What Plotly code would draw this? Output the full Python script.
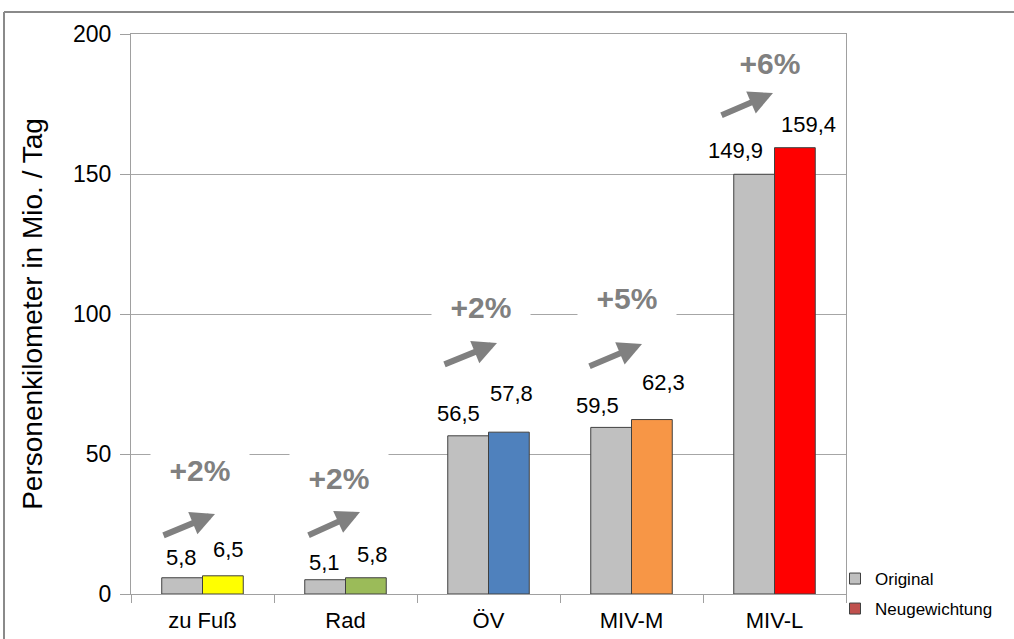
import plotly.graph_objects as go

categories = ["zu Fuß", "Rad", "ÖV", "MIV-M", "MIV-L"]
original = [5.8, 5.1, 56.5, 59.5, 149.9]
neugewichtung = [6.5, 5.8, 57.8, 62.3, 159.4]
changes = ["+2%", "+2%", "+2%", "+5%", "+6%"]
y_ticks = [0, 50, 100, 150, 200]

new_colors = ["#FFFF00", "#9BBB59", "#4F81BD", "#F79646", "#FF0000"]
gray = "#C0C0C0"
FONT = "Liberation Sans, Arial, sans-serif"

# plot area in pixels
L, R, T, B = 131, 846, 34, 594
W, H = R - L, B - T


def px(x):
    return (x - L) / W


def py(y):
    return (B - y) / H


fig = go.Figure()
fig.add_trace(go.Bar(
    x=categories, y=original, name="Original",
    marker=dict(color=gray, line=dict(color="#404040", width=1)),
    showlegend=False,
))
fig.add_trace(go.Bar(
    x=categories, y=neugewichtung, name="Neugewichtung",
    marker=dict(color=new_colors, line=dict(color="#404040", width=1)),
    showlegend=False,
))
# legend-only entries
fig.add_trace(go.Scatter(
    x=[categories[0]], y=[None], name="Original", mode="markers",
    marker=dict(symbol="square", size=11, color=gray,
                line=dict(color="#404040", width=1)),
    legend="legend",
))
fig.add_trace(go.Scatter(
    x=[categories[0]], y=[None], name="Neugewichtung", mode="markers",
    marker=dict(symbol="square", size=11, color="#C0504D",
                line=dict(color="#404040", width=1)),
    legend="legend2",
))

annotations = []
# data label placement (styling offsets, pixels)
orig_lift = [6, 3, 8, 7, 9]
new_lift = [12, 9, 24, 23, 9]
orig_dx = [0, 0, -9, -13, -18]
new_dx = [5, 6, 2, 11, 13]
for i, c in enumerate(categories):
    annotations.append(dict(
        x=c, y=original[i], xref="x", yref="y", xshift=-21 + orig_dx[i],
        yshift=orig_lift[i],
        yanchor="bottom", text=f"{original[i]:.1f}".replace(".", ","),
        showarrow=False, font=dict(size=22, color="#000000", family=FONT)))
    annotations.append(dict(
        x=c, y=neugewichtung[i], xref="x", yref="y", xshift=21 + new_dx[i],
        yshift=new_lift[i],
        yanchor="bottom", text=f"{neugewichtung[i]:.1f}".replace(".", ","),
        showarrow=False, font=dict(size=22, color="#000000", family=FONT)))

# percentage boxes and arrows (pixel positions of decorations)
pct_pos = [(200, 470), (339, 478), (481, 307), (627, 298), (770, 63)]
arrow_tips = [(215, 514), (360, 512), (497, 343), (642, 344), (773, 93)]
arrow_tails = [(162, 536), (307, 536), (443, 365), (588, 367), (720, 116)]
for i, txt in enumerate(changes):
    x, y = pct_pos[i]
    annotations.append(dict(
        x=px(x), y=py(y), xref="paper", yref="paper", text=f"<b>{txt}</b>",
        xanchor="center", yanchor="middle",
        showarrow=False, bgcolor="#FFFFFF", width=96, height=54, borderpad=1,
        font=dict(size=30, color="#808080", family=FONT)))
    (tx, ty), (sx, sy) = arrow_tips[i], arrow_tails[i]
    annotations.append(dict(
        x=px(tx), y=py(ty), xref="paper", yref="paper", text="",
        showarrow=True, ax=sx - tx, ay=sy - ty, arrowhead=2, arrowwidth=6,
        arrowsize=0.8, arrowcolor="#808080", standoff=0, startstandoff=0))

fig.update_layout(
    width=1014, height=639,
    margin=dict(l=L, r=1014 - R, t=T, b=639 - B, autoexpand=False),
    paper_bgcolor="#FFFFFF", plot_bgcolor="#FFFFFF",
    barmode="group", bargap=0.43, bargroupgap=0,
    font=dict(family=FONT, color="#000000"),
    annotations=annotations,
    legend=dict(x=px(835), y=py(561), xanchor="left", yanchor="top",
                font=dict(size=17, family=FONT), bgcolor="rgba(0,0,0,0)",
                itemwidth=30),
    legend2=dict(x=px(835), y=py(591), xanchor="left", yanchor="top",
                 font=dict(size=17, family=FONT), bgcolor="rgba(0,0,0,0)",
                 itemwidth=30),
    shapes=[
        dict(type="line", xref="paper", yref="paper",
             x0=px(4), x1=px(1014), y0=py(12), y1=py(12),
             line=dict(color="#8A8A8A", width=2)),
        dict(type="line", xref="paper", yref="paper",
             x0=px(4), x1=px(4), y0=py(12), y1=py(639),
             line=dict(color="#8A8A8A", width=2)),
    ],
)
fig.update_xaxes(
    type="category", tickson="boundaries", ticks="outside", ticklen=8,
    tickcolor="#A0A0A0", showline=True, linecolor="#A0A0A0", linewidth=1,
    mirror=True, showgrid=False, ticklabelstandoff=7,
    tickfont=dict(size=22, family=FONT, color="#000000"),
)
fig.update_yaxes(
    range=[0, 200], tickvals=y_ticks, ticks="outside", ticklen=10,
    tickcolor="#A0A0A0", showline=True, linecolor="#A0A0A0", linewidth=1,
    mirror=True, showgrid=True, gridcolor="#A6A6A6", gridwidth=1,
    zeroline=False, ticklabelstandoff=4,
    tickfont=dict(size=23, family=FONT, color="#000000"),
    title=dict(text="Personenkilometer in Mio. / Tag", standoff=22,
               font=dict(size=28, family=FONT, color="#000000")),
)

fig.write_html(
    "out.html",
    config={"displayModeBar": False},
    post_script="document.body.style.margin='0';document.body.style.overflow='hidden';",
)
